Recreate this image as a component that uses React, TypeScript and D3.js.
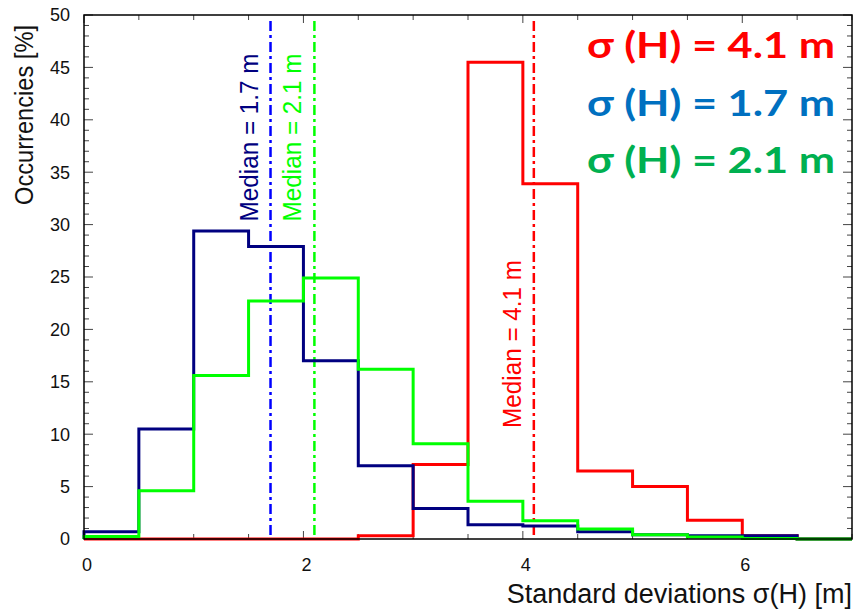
import React, { useRef, useEffect } from 'react';
import * as d3 from 'd3';

// histogram bins (left edges, width 0.5 m)
const binStarts = [0, 0.5, 1, 1.5, 2, 2.5, 3, 3.5, 4, 4.5, 5, 5.5, 6, 6.5];
const binWidth = 0.5;

// occurrences [%] per bin
const redValues = [0, 0, 0, 0, 0, 0.3, 7.1, 45.5, 33.9, 6.5, 5.0, 1.8, 0.3, 0];
const blueValues = [0.7, 10.5, 29.4, 27.9, 17.0, 7.0, 2.9, 1.35, 1.25, 0.7, 0.4, 0.3, 0.3, 0];
const greenValues = [0.25, 4.6, 15.6, 22.7, 24.9, 16.2, 9.1, 3.6, 1.75, 0.95, 0.4, 0.2, 0.05, 0];

// medians and where their labels sit (y in %)
const medians = [
  { value: 4.1, line: '#ff0000', text: '#ff0000', labelY: 10.6, label: 'Median = 4.1 m' },
  { value: 1.7, line: '#0000ff', text: '#000080', labelY: 30.3, label: 'Median = 1.7 m' },
  { value: 2.1, line: '#00ff00', text: '#00ff00', labelY: 30.3, label: 'Median = 2.1 m' },
];

const legendItems = [
  { label: 'σ (H) = 4.1 m', color: '#ff0000' },
  { label: 'σ (H) = 1.7 m', color: '#0070c0' },
  { label: 'σ (H) = 2.1 m', color: '#00b050' },
];

const xLabelTicks = [0, 2, 4, 6];
const yLabelTicks = [0, 5, 10, 15, 20, 25, 30, 35, 40, 45, 50];

const Chart: React.FC = () => {
  const ref = useRef<SVGSVGElement>(null);
  const width = 854;
  const height = 609;

  useEffect(() => {
    const svg = d3.select(ref.current);
    svg.selectAll('*').remove();

    const left = 84, right = 852, top = 15, bottom = 539;
    const x = d3.scaleLinear().domain([0, 7]).range([left, right]);
    const y = d3.scaleLinear().domain([0, 50]).range([bottom, top]);
    const font = "'Liberation Sans', Arial, sans-serif";

    // ticks (inside, on all four sides)
    const ticks = svg.append('g').attr('stroke', '#444').attr('stroke-width', 1);
    d3.range(0, 7.01, 0.5).forEach(v => {
      const len = xLabelTicks.includes(v) ? 8 : 5;
      ticks.append('line').attr('x1', x(v)).attr('x2', x(v)).attr('y1', bottom).attr('y2', bottom - len);
      ticks.append('line').attr('x1', x(v)).attr('x2', x(v)).attr('y1', top).attr('y2', top + len);
    });
    d3.range(0, 51, 1).forEach(v => {
      const len = v % 5 === 0 ? 9 : 5;
      ticks.append('line').attr('y1', y(v)).attr('y2', y(v)).attr('x1', left).attr('x2', left + len);
      ticks.append('line').attr('y1', y(v)).attr('y2', y(v)).attr('x1', right).attr('x2', right - len);
    });

    // median lines
    medians.forEach(m => {
      svg.append('line')
        .attr('x1', x(m.value)).attr('x2', x(m.value))
        .attr('y1', top + 6).attr('y2', bottom)
        .attr('stroke', m.line)
        .attr('stroke-width', 2.5)
        .attr('stroke-dasharray', '10,4,3,4');
      svg.append('text')
        .attr('transform', `translate(${x(m.value) - 13},${y(m.labelY)}) rotate(-90)`)
        .attr('font-family', font)
        .attr('font-size', 25)
        .attr('textLength', 168)
        .attr('lengthAdjust', 'spacingAndGlyphs')
        .attr('fill', m.text)
        .text(m.label);
    });

    // step histograms
    const step = d3.line<[number, number]>()
      .x(d => x(d[0]))
      .y(d => y(d[1]))
      .curve(d3.curveStepAfter);

    const series = [
      { values: redValues, color: '#ff0000' },
      { values: blueValues, color: '#000080' },
      { values: greenValues, color: '#00ff00' },
    ];
    series.forEach(s => {
      const pts: [number, number][] = [[binStarts[0], 0]];
      binStarts.forEach((b, i) => pts.push([b, s.values[i]]));
      pts.push([binStarts[binStarts.length - 1] + binWidth, 0]);
      svg.append('path')
        .attr('d', step(pts))
        .attr('fill', 'none')
        .attr('stroke', s.color)
        .attr('stroke-width', 3);
    });

    // frame
    svg.append('rect')
      .attr('x', left).attr('y', top)
      .attr('width', right - left).attr('height', bottom - top)
      .attr('fill', 'none')
      .attr('stroke', '#000')
      .attr('stroke-width', 1.5);

    // tick labels
    svg.append('g').selectAll('text').data(yLabelTicks).join('text')
      .attr('x', 70).attr('y', d => y(d)).attr('dy', '0.36em')
      .attr('text-anchor', 'end')
      .attr('font-family', font).attr('font-size', 18).attr('fill', '#111')
      .text(d => d);
    svg.append('g').selectAll('text').data(xLabelTicks).join('text')
      .attr('x', d => x(d) + 3).attr('y', 571)
      .attr('text-anchor', 'middle')
      .attr('font-family', font).attr('font-size', 18).attr('fill', '#111')
      .text(d => d);

    // axis titles
    svg.append('text')
      .attr('x', right).attr('y', 603)
      .attr('text-anchor', 'end')
      .attr('font-family', font).attr('font-size', 27).attr('fill', '#111')
      .text('Standard deviations σ(H) [m]');
    svg.append('text')
      .attr('transform', 'translate(33,115) rotate(-90)')
      .attr('text-anchor', 'middle')
      .attr('font-family', font).attr('font-size', 26).attr('fill', '#111')
      .attr('textLength', 180).attr('lengthAdjust', 'spacingAndGlyphs')
      .text('Occurrencies [%]');

    // legend
    legendItems.forEach((d, i) => {
      svg.append('text')
        .attr('x', 835).attr('y', 58 + i * 57.5)
        .attr('text-anchor', 'end')
        .attr('font-family', "Lato, 'Open Sans', sans-serif")
        .attr('font-weight', 'bold')
        .attr('font-size', 37)
        .attr('textLength', 248).attr('lengthAdjust', 'spacingAndGlyphs')
        .attr('fill', d.color)
        .text(d.label);
    });
  }, []);

  return (
    <svg ref={ref} width={width} height={height}
      style={{ position: 'absolute', left: 0, top: 0, background: '#fff' }} />
  );
};

export default function App() {
  return <Chart />;
}
